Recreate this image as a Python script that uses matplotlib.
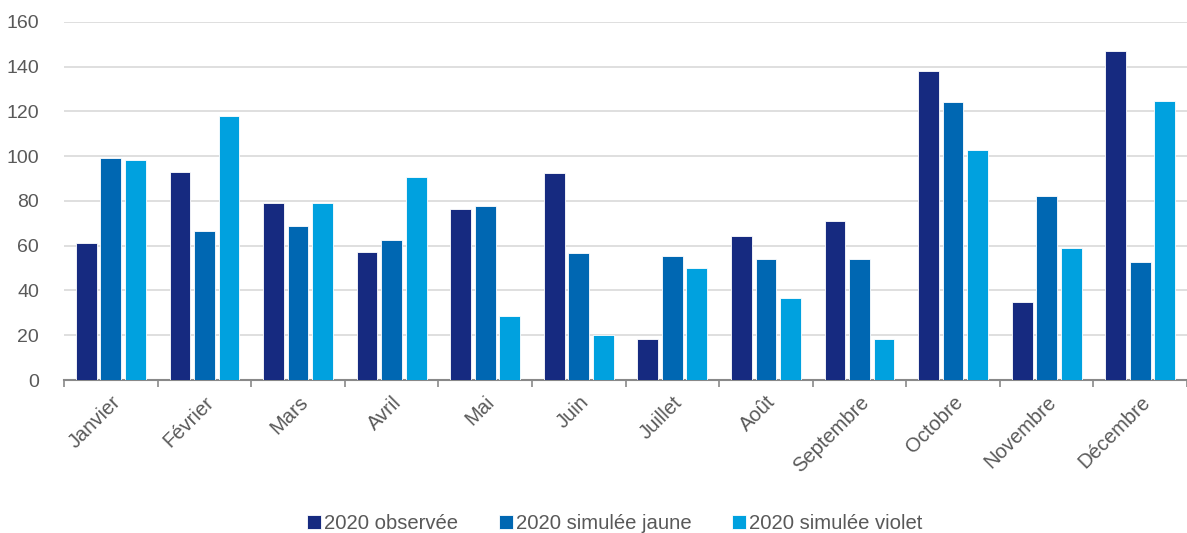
import numpy as np
import matplotlib.pyplot as plt

plt.rcParams['font.family'] = ['Liberation Sans', 'DejaVu Sans']

# Data
mois = ['Janvier', 'Février', 'Mars', 'Avril', 'Mai', 'Juin', 'Juillet',
        'Août', 'Septembre', 'Octobre', 'Novembre', 'Décembre']
observee = [61, 93, 79, 57, 76.3, 92.4, 18.2, 64.5, 71.2, 138, 34.9, 147]
simulee_jaune = [99.2, 66.6, 69, 62.6, 77.6, 56.8, 55.4, 53.9, 54.1, 124.4, 82.1, 52.6]
simulee_violet = [98.2, 117.8, 79, 90.6, 28.6, 20.3, 50.1, 36.6, 18.3, 102.8, 59.1, 124.8]

series = [
    ('2020 observée', observee, '#162A80'),
    ('2020 simulée jaune', simulee_jaune, '#0067B2'),
    ('2020 simulée violet', simulee_violet, '#00A1DF'),
]

gray = '#595959'
fig = plt.figure(figsize=(11.87, 5.33), dpi=100)
ax = fig.add_axes([0.054, 0.287, 0.946, 0.672])

x = np.arange(len(mois))
step = 0.262
for i, (name, vals, col) in enumerate(series):
    ax.bar(x + (i - 1) * step, vals, width=0.222, color=col, label=name,
           edgecolor='white', linewidth=0.6, zorder=3)

ax.set_xlim(-0.5, len(mois) - 0.5)
ax.set_ylim(0, 160)
ax.set_yticks(range(0, 161, 20))
ax.yaxis.grid(True, color='#D9D9D9', linewidth=1.2, zorder=0)
ax.tick_params(axis='y', length=0, labelsize=14, labelcolor=gray, pad=18)

ax.set_xticks(x)
ax.set_xticklabels(mois, rotation=45, ha='right', rotation_mode='anchor',
                   fontsize=14.5, color=gray)
ax.tick_params(axis='x', which='major', length=0, pad=9)
ax.set_xticks(np.arange(-0.5, len(mois)), minor=True)
ax.tick_params(axis='x', which='minor', length=5, width=1.2, color='#898989')

for s in ['top', 'right', 'left']:
    ax.spines[s].set_visible(False)
ax.spines['bottom'].set_color('#898989')
ax.spines['bottom'].set_linewidth(1.5)

fig.legend(loc='lower center', bbox_to_anchor=(0.518, -0.034), ncol=3, frameon=False,
           fontsize=14.6, labelcolor=gray, handlelength=0.7, handleheight=0.7,
           handletextpad=0.15, columnspacing=2.0)

fig.savefig('out.png', dpi=100)
